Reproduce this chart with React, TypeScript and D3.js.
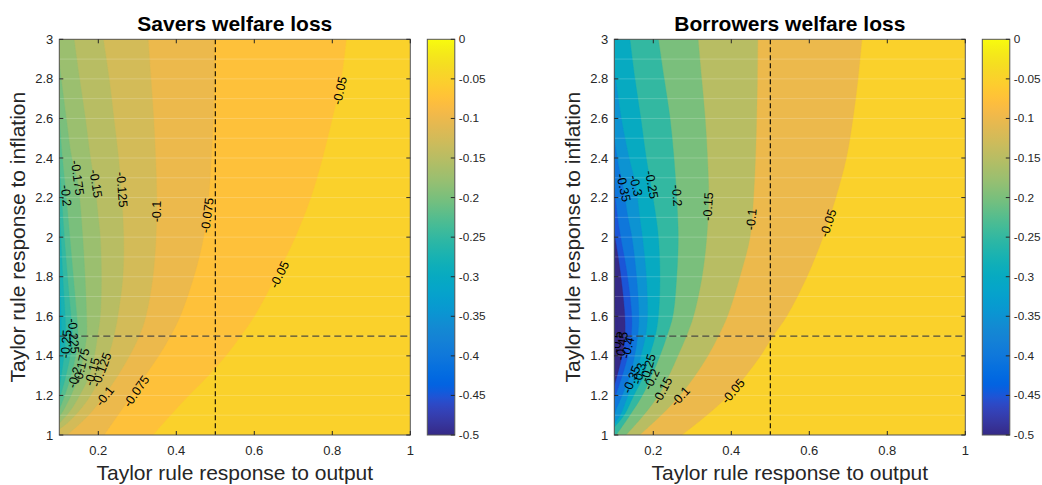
import React from 'react';
import * as d3 from 'd3';

type Pt = [number, number];

// ---------- colormap (parula, 64 entries) ----------
const PARULA: number[][] = [
  [0.2081,0.1663,0.5292],[0.2116,0.1898,0.5777],[0.2123,0.2138,0.6270],[0.2081,0.2386,0.6771],
  [0.1959,0.2645,0.7279],[0.1707,0.2919,0.7792],[0.1253,0.3242,0.8303],[0.0591,0.3598,0.8683],
  [0.0117,0.3875,0.8820],[0.0060,0.4086,0.8828],[0.0165,0.4266,0.8786],[0.0329,0.4430,0.8720],
  [0.0498,0.4586,0.8641],[0.0629,0.4737,0.8554],[0.0723,0.4887,0.8467],[0.0779,0.5040,0.8384],
  [0.0793,0.5200,0.8312],[0.0749,0.5375,0.8263],[0.0641,0.5570,0.8240],[0.0488,0.5772,0.8228],
  [0.0343,0.5966,0.8199],[0.0265,0.6137,0.8135],[0.0239,0.6287,0.8038],[0.0231,0.6418,0.7913],
  [0.0228,0.6535,0.7768],[0.0267,0.6642,0.7607],[0.0384,0.6743,0.7436],[0.0590,0.6838,0.7254],
  [0.0843,0.6928,0.7062],[0.1133,0.7015,0.6859],[0.1453,0.7098,0.6646],[0.1801,0.7177,0.6424],
  [0.2178,0.7250,0.6193],[0.2586,0.7317,0.5954],[0.3022,0.7376,0.5712],[0.3482,0.7424,0.5473],
  [0.3953,0.7459,0.5244],[0.4420,0.7481,0.5033],[0.4871,0.7491,0.4840],[0.5300,0.7491,0.4661],
  [0.5709,0.7485,0.4494],[0.6099,0.7473,0.4337],[0.6473,0.7456,0.4188],[0.6834,0.7435,0.4044],
  [0.7184,0.7411,0.3905],[0.7525,0.7384,0.3768],[0.7858,0.7356,0.3633],[0.8185,0.7327,0.3498],
  [0.8507,0.7299,0.3360],[0.8824,0.7274,0.3217],[0.9139,0.7258,0.3063],[0.9450,0.7261,0.2886],
  [0.9739,0.7314,0.2666],[0.9938,0.7455,0.2403],[0.9990,0.7653,0.2164],[0.9955,0.7861,0.1967],
  [0.9880,0.8066,0.1794],[0.9789,0.8271,0.1633],[0.9697,0.8481,0.1475],[0.9626,0.8705,0.1309],
  [0.9589,0.8949,0.1132],[0.9598,0.9218,0.0948],[0.9661,0.9514,0.0755],[0.9763,0.9831,0.0538],
];

// ---------- axes ----------
const xDomain: [number, number] = [0.1, 1];
const yDomain: [number, number] = [1, 3];
const colorDomain: [number, number] = [-0.5, 0];
const xTickValues = [0.2, 0.4, 0.6, 0.8, 1];
const yTickValues = [1, 1.2, 1.4, 1.6, 1.8, 2, 2.2, 2.4, 2.6, 2.8, 3];
const colorbarTicks = [0, -0.05, -0.1, -0.15, -0.2, -0.25, -0.3, -0.35, -0.4, -0.45, -0.5];
const refLineX = 0.5;
const refLineY = 1.5;

// ---------- Savers contour lines (points [output coef, inflation coef]) ----------
const saversStep = 0.025;
const savers_050: Pt[] = [[0.836,3],[0.823,2.8],[0.80,2.6],[0.775,2.4],[0.745,2.2],[0.705,2.0],[0.655,1.8],[0.60,1.6],[0.565,1.5],[0.527,1.4],[0.482,1.3],[0.432,1.2],[0.385,1.1],[0.34,1.0]];
const savers_075: Pt[] = [[0.497,3],[0.497,2.8],[0.495,2.6],[0.49,2.4],[0.483,2.2],[0.47,2.0],[0.445,1.8],[0.41,1.6],[0.385,1.5],[0.355,1.4],[0.32,1.3],[0.285,1.2],[0.25,1.1],[0.215,1.0]];
const savers_100: Pt[] = [[0.328,3],[0.335,2.8],[0.342,2.6],[0.347,2.4],[0.35,2.2],[0.348,2.0],[0.34,1.8],[0.322,1.6],[0.305,1.5],[0.28,1.4],[0.25,1.3],[0.215,1.2],[0.175,1.1],[0.12,1.0]];
const savers_125: Pt[] = [[0.213,3],[0.228,2.8],[0.24,2.6],[0.252,2.4],[0.26,2.2],[0.265,2.0],[0.263,1.8],[0.25,1.6],[0.24,1.5],[0.226,1.4],[0.207,1.3],[0.18,1.2],[0.15,1.12],[0.12,1.06],[0.1,1.03]];
const savers_150: Pt[] = [[0.138,3],[0.152,2.8],[0.167,2.6],[0.18,2.4],[0.192,2.25],[0.2,2.1],[0.205,2.0],[0.208,1.8],[0.205,1.6],[0.198,1.5],[0.19,1.4],[0.177,1.3],[0.152,1.2],[0.127,1.12],[0.1,1.06]];
const savers_175: Pt[] = [[0.1,2.88],[0.118,2.6],[0.132,2.4],[0.145,2.3],[0.152,2.2],[0.16,2.0],[0.166,1.8],[0.17,1.6],[0.17,1.5],[0.162,1.4],[0.15,1.3],[0.13,1.2],[0.112,1.13],[0.1,1.09]];
const savers_200: Pt[] = [[0.1,2.6],[0.108,2.4],[0.118,2.2],[0.127,2.0],[0.136,1.8],[0.145,1.6],[0.148,1.5],[0.142,1.4],[0.13,1.3],[0.114,1.2],[0.1,1.13]];
const savers_225: Pt[] = [[0.1,2.38],[0.106,2.2],[0.113,2.0],[0.121,1.8],[0.13,1.6],[0.134,1.5],[0.128,1.4],[0.117,1.3],[0.106,1.22],[0.1,1.18]];
const savers_250: Pt[] = [[0.1,2.15],[0.104,2.0],[0.109,1.8],[0.115,1.6],[0.116,1.5],[0.112,1.4],[0.105,1.3],[0.1,1.24]];
const savers_275: Pt[] = [[0.1,1.82],[0.103,1.7],[0.105,1.55],[0.103,1.42],[0.1,1.32]];
const saversLevels = [-0.05, -0.075, -0.1, -0.125, -0.15, -0.175, -0.2, -0.225, -0.25, -0.275];
const saversLines = [savers_050, savers_075, savers_100, savers_125, savers_150, savers_175, savers_200, savers_225, savers_250, savers_275];
const saversLabelLevels = [-0.05, -0.05, -0.075, -0.1, -0.125, -0.15, -0.175, -0.2, -0.075, -0.1, -0.125, -0.15, -0.175, -0.2, -0.225, -0.25];
const saversLabelX = [0.82, 0.665, 0.48, 0.35, 0.26, 0.193, 0.146, 0.117, 0.298, 0.217, 0.209, 0.185, 0.157, 0.14, 0.136, 0.118];
const saversLabelY = [2.74, 1.81, 2.11, 2.13, 2.24, 2.27, 2.3, 2.21, 1.22, 1.195, 1.33, 1.32, 1.35, 1.29, 1.5, 1.46];

// ---------- Borrowers contour lines ----------
const borrowersStep = 0.05;
const borrowers_050: Pt[] = [[0.735,3],[0.725,2.8],[0.712,2.6],[0.695,2.4],[0.668,2.2],[0.635,2.0],[0.594,1.8],[0.542,1.6],[0.507,1.5],[0.475,1.4],[0.437,1.3],[0.393,1.2],[0.337,1.1],[0.273,1.0]];
const borrowers_100: Pt[] = [[0.468,3],[0.467,2.8],[0.465,2.6],[0.462,2.4],[0.457,2.2],[0.448,2.0],[0.422,1.8],[0.39,1.6],[0.367,1.5],[0.34,1.4],[0.307,1.3],[0.268,1.2],[0.22,1.1],[0.165,1.0]];
const borrowers_150: Pt[] = [[0.315,3],[0.324,2.8],[0.333,2.6],[0.339,2.4],[0.342,2.2],[0.337,2.0],[0.325,1.8],[0.303,1.6],[0.285,1.5],[0.263,1.4],[0.24,1.3],[0.213,1.2],[0.175,1.1],[0.13,1.0]];
const borrowers_200: Pt[] = [[0.213,3],[0.228,2.8],[0.243,2.6],[0.253,2.4],[0.26,2.2],[0.264,2.0],[0.26,1.8],[0.25,1.6],[0.235,1.5],[0.217,1.4],[0.196,1.3],[0.172,1.2],[0.14,1.1],[0.105,1.0]];
const borrowers_250: Pt[] = [[0.14,3],[0.153,2.8],[0.168,2.6],[0.182,2.4],[0.195,2.25],[0.207,2.1],[0.213,2.0],[0.217,1.8],[0.213,1.6],[0.205,1.5],[0.19,1.4],[0.175,1.3],[0.15,1.2],[0.125,1.1],[0.1,1.04]];
const borrowers_300: Pt[] = [[0.1,2.85],[0.118,2.6],[0.138,2.4],[0.155,2.26],[0.165,2.1],[0.172,2.0],[0.182,1.8],[0.185,1.6],[0.18,1.5],[0.168,1.4],[0.155,1.3],[0.135,1.2],[0.115,1.1],[0.1,1.06]];
const borrowers_350: Pt[] = [[0.1,2.5],[0.112,2.35],[0.123,2.25],[0.135,2.1],[0.145,2.0],[0.157,1.8],[0.163,1.6],[0.16,1.5],[0.152,1.4],[0.14,1.3],[0.12,1.2],[0.105,1.13],[0.1,1.1]];
const borrowers_400: Pt[] = [[0.1,2.25],[0.112,2.05],[0.13,1.85],[0.143,1.65],[0.145,1.55],[0.14,1.45],[0.128,1.35],[0.112,1.25],[0.1,1.18]];
const borrowers_450: Pt[] = [[0.1,2.02],[0.11,1.9],[0.12,1.75],[0.127,1.6],[0.127,1.5],[0.12,1.4],[0.11,1.32],[0.1,1.25]];
const borrowers_500: Pt[] = [[0.1,1.75],[0.106,1.6],[0.107,1.5],[0.1,1.38]];
const borrowersLevels = [-0.05, -0.1, -0.15, -0.2, -0.25, -0.3, -0.35, -0.4, -0.45, -0.5];
const borrowersLines = [borrowers_050, borrowers_100, borrowers_150, borrowers_200, borrowers_250, borrowers_300, borrowers_350, borrowers_400, borrowers_450, borrowers_500];
const borrowersLabelLevels = [-0.05, -0.1, -0.15, -0.2, -0.25, -0.3, -0.35, -0.05, -0.1, -0.15, -0.2, -0.25, -0.3, -0.35, -0.4, -0.45, -0.5];
const borrowersLabelX = [0.649, 0.452, 0.341, 0.26, 0.195, 0.155, 0.123, 0.405, 0.27, 0.224, 0.196, 0.187, 0.165, 0.145, 0.135, 0.12, 0.107];
const borrowersLabelY = [2.07, 2.09, 2.155, 2.21, 2.265, 2.26, 2.25, 1.22, 1.194, 1.225, 1.28, 1.34, 1.31, 1.28, 1.44, 1.45, 1.47];

// ---------- helpers ----------
function parula(t: number): string {
  const c = Math.max(0, Math.min(1, t)) * (PARULA.length - 1);
  const i = Math.min(PARULA.length - 2, Math.floor(c));
  const f = c - i;
  const a = PARULA[i], b = PARULA[i + 1];
  const ch = (k: number) => Math.round(255 * (a[k] + (b[k] - a[k]) * f));
  return `rgb(${ch(0)},${ch(1)},${ch(2)})`;
}
const colorT = d3.scaleLinear().domain(colorDomain).range([0, 1]).clamp(true);

const FONT = '"Liberation Sans", Arial, Helvetica, sans-serif';
const AX = '#262626';

interface PanelProps {
  id: string;
  title: string;
  left: number;
  levels: number[];
  lines: Pt[][];
  step: number;
  labelLevels: number[];
  labelX: number[];
  labelY: number[];
}

const PLOT_W = 351;
const PLOT_TOP = 39.3;
const PLOT_BOTTOM = 435;
const CB_GAP = 17;
const CB_W = 27.5;

function Panel({ id, title, left, levels, lines, step, labelLevels, labelX, labelY }: PanelProps) {
  const x = d3.scaleLinear().domain(xDomain).range([left, left + PLOT_W]);
  const y = d3.scaleLinear().domain(yDomain).range([PLOT_BOTTOM, PLOT_TOP]);
  const cbX = left + PLOT_W + CB_GAP;
  const cy = d3.scaleLinear().domain(colorDomain).range([PLOT_BOTTOM, PLOT_TOP]);

  const line = d3.line<Pt>().x(d => x(d[0])).y(d => y(d[1])).curve(d3.curveCatmullRom.alpha(0.5));

  const regionPath = (pts: Pt[]) => {
    let p = line(pts) || '';
    const s = pts[0], e = pts[pts.length - 1];
    if (e[1] <= yDomain[0] + 1e-6 && e[0] > xDomain[0] + 1e-6) p += `L${x(xDomain[0])},${y(yDomain[0])}`;
    if (s[1] >= yDomain[1] - 1e-6 && s[0] > xDomain[0] + 1e-6) p += `L${x(xDomain[0])},${y(yDomain[1])}`;
    return p + 'Z';
  };

  const bg = parula(colorT(levels[0]));

  const labelAngle = (lv: number, lx: number, ly: number) => {
    const idx = levels.findIndex(l => Math.abs(l - lv) < 1e-9);
    const pts = lines[idx].map(p => [x(p[0]), y(p[1])]);
    const px = x(lx), py = y(ly);
    let best = Infinity, ang = 0;
    for (let i = 0; i < pts.length - 1; i++) {
      const [ax, ay] = pts[i], [bx, by] = pts[i + 1];
      const dx = bx - ax, dy = by - ay;
      const L2 = dx * dx + dy * dy || 1;
      const t = Math.max(0, Math.min(1, ((px - ax) * dx + (py - ay) * dy) / L2));
      const qx = ax + t * dx - px, qy = ay + t * dy - py;
      const dist = qx * qx + qy * qy;
      if (dist < best) { best = dist; ang = Math.atan2(dy, dx) * 180 / Math.PI; }
    }
    if (ang > 90) ang -= 180;
    if (ang < -90) ang += 180;
    return ang;
  };

  const gridY = d3.range(11, 30).map(v => v / 10);
  const cx = left + PLOT_W / 2;
  const cyMid = (PLOT_TOP + PLOT_BOTTOM) / 2;

  return (
    <g>
      <defs>
        <clipPath id={`clip-${id}`}>
          <rect x={left} y={PLOT_TOP} width={PLOT_W} height={PLOT_BOTTOM - PLOT_TOP} />
        </clipPath>
        <linearGradient id={`grad-${id}`} x1="0" y1="1" x2="0" y2="0">
          {PARULA.map((_, i) => (
            <stop key={i} offset={i / (PARULA.length - 1)} stopColor={parula(i / (PARULA.length - 1))} />
          ))}
        </linearGradient>
      </defs>
      <g clipPath={`url(#clip-${id})`}>
        <rect x={left} y={PLOT_TOP} width={PLOT_W} height={PLOT_BOTTOM - PLOT_TOP} fill={bg} />
        {lines.map((pts, i) => (
          <path key={i} d={regionPath(pts)} fill={parula(colorT(levels[i] - step))} stroke={parula(colorT(levels[i] - step))} strokeWidth={0.3} />
        ))}
        {gridY.map(g => (
          <line key={g} x1={left} x2={left + PLOT_W} y1={y(g)} y2={y(g)} stroke="#ffffff" strokeOpacity={0.2} strokeWidth={1} />
        ))}
        <line x1={x(refLineX)} x2={x(refLineX)} y1={PLOT_TOP} y2={PLOT_BOTTOM} stroke="#000" strokeWidth={1.1} strokeDasharray="5,3" />
        <line x1={left} x2={left + PLOT_W} y1={y(refLineY)} y2={y(refLineY)} stroke="#333" strokeOpacity={0.85} strokeWidth={1.2} strokeDasharray="7,4" />
        {labelLevels.map((lv, i) => (
          <text key={i} x={x(labelX[i])} y={y(labelY[i])} fontSize={12.5} fontFamily={FONT} fill="#000"
            textAnchor="middle" dominantBaseline="central"
            transform={`rotate(${labelAngle(lv, labelX[i], labelY[i])},${x(labelX[i])},${y(labelY[i])})`}>
            {String(lv)}
          </text>
        ))}
      </g>
      <rect x={left} y={PLOT_TOP} width={PLOT_W} height={PLOT_BOTTOM - PLOT_TOP} fill="none" stroke="#555" strokeWidth={1} />
      {xTickValues.map(v => (
        <g key={v}>
          <line x1={x(v)} x2={x(v)} y1={PLOT_BOTTOM} y2={PLOT_BOTTOM - 4} stroke={AX} />
          <line x1={x(v)} x2={x(v)} y1={PLOT_TOP} y2={PLOT_TOP + 4} stroke={AX} />
          <text x={x(v)} y={455} fontSize={13} fontFamily={FONT} fill={AX} textAnchor="middle">{String(v)}</text>
        </g>
      ))}
      {yTickValues.map(v => (
        <g key={v}>
          <line x1={left} x2={left + 4} y1={y(v)} y2={y(v)} stroke={AX} />
          <line x1={left + PLOT_W} x2={left + PLOT_W - 4} y1={y(v)} y2={y(v)} stroke={AX} />
          <text x={left - 6} y={y(v)} fontSize={13} fontFamily={FONT} fill={AX} textAnchor="end" dominantBaseline="central">{String(v)}</text>
        </g>
      ))}
      <text x={cx} y={31} fontSize={21} fontWeight="bold" fontFamily={FONT} fill="#000" textAnchor="middle">{title}</text>
      <text x={cx} y={480} fontSize={21} fontFamily={FONT} fill={AX} textAnchor="middle">Taylor rule response to output</text>
      <text x={0} y={0} fontSize={21} fontFamily={FONT} fill={AX} textAnchor="middle"
        transform={`translate(${left - 34},${cyMid}) rotate(-90)`}>Taylor rule response to inflation</text>
      <rect x={cbX} y={PLOT_TOP} width={CB_W} height={PLOT_BOTTOM - PLOT_TOP} fill={`url(#grad-${id})`} stroke="#555" strokeWidth={1} />
      {colorbarTicks.map(v => (
        <g key={v}>
          <line x1={cbX + CB_W} x2={cbX + CB_W - 4} y1={cy(v)} y2={cy(v)} stroke={AX} />
          <text x={cbX + CB_W + 4} y={cy(v)} fontSize={11.8} fontFamily={FONT} fill={AX} dominantBaseline="central">{String(v)}</text>
        </g>
      ))}
    </g>
  );
}

export default function App() {
  return (
    <svg width={1042} height={485} style={{ position: 'absolute', left: 0, top: 0, background: '#fff' }}>
      <rect x={0} y={0} width={1042} height={485} fill="#fff" />
      <Panel id="savers" title="Savers welfare loss" left={59.3} levels={saversLevels} lines={saversLines} step={saversStep}
        labelLevels={saversLabelLevels} labelX={saversLabelX} labelY={saversLabelY} />
      <Panel id="borrowers" title="Borrowers welfare loss" left={614.3} levels={borrowersLevels} lines={borrowersLines} step={borrowersStep}
        labelLevels={borrowersLabelLevels} labelX={borrowersLabelX} labelY={borrowersLabelY} />
    </svg>
  );
}
